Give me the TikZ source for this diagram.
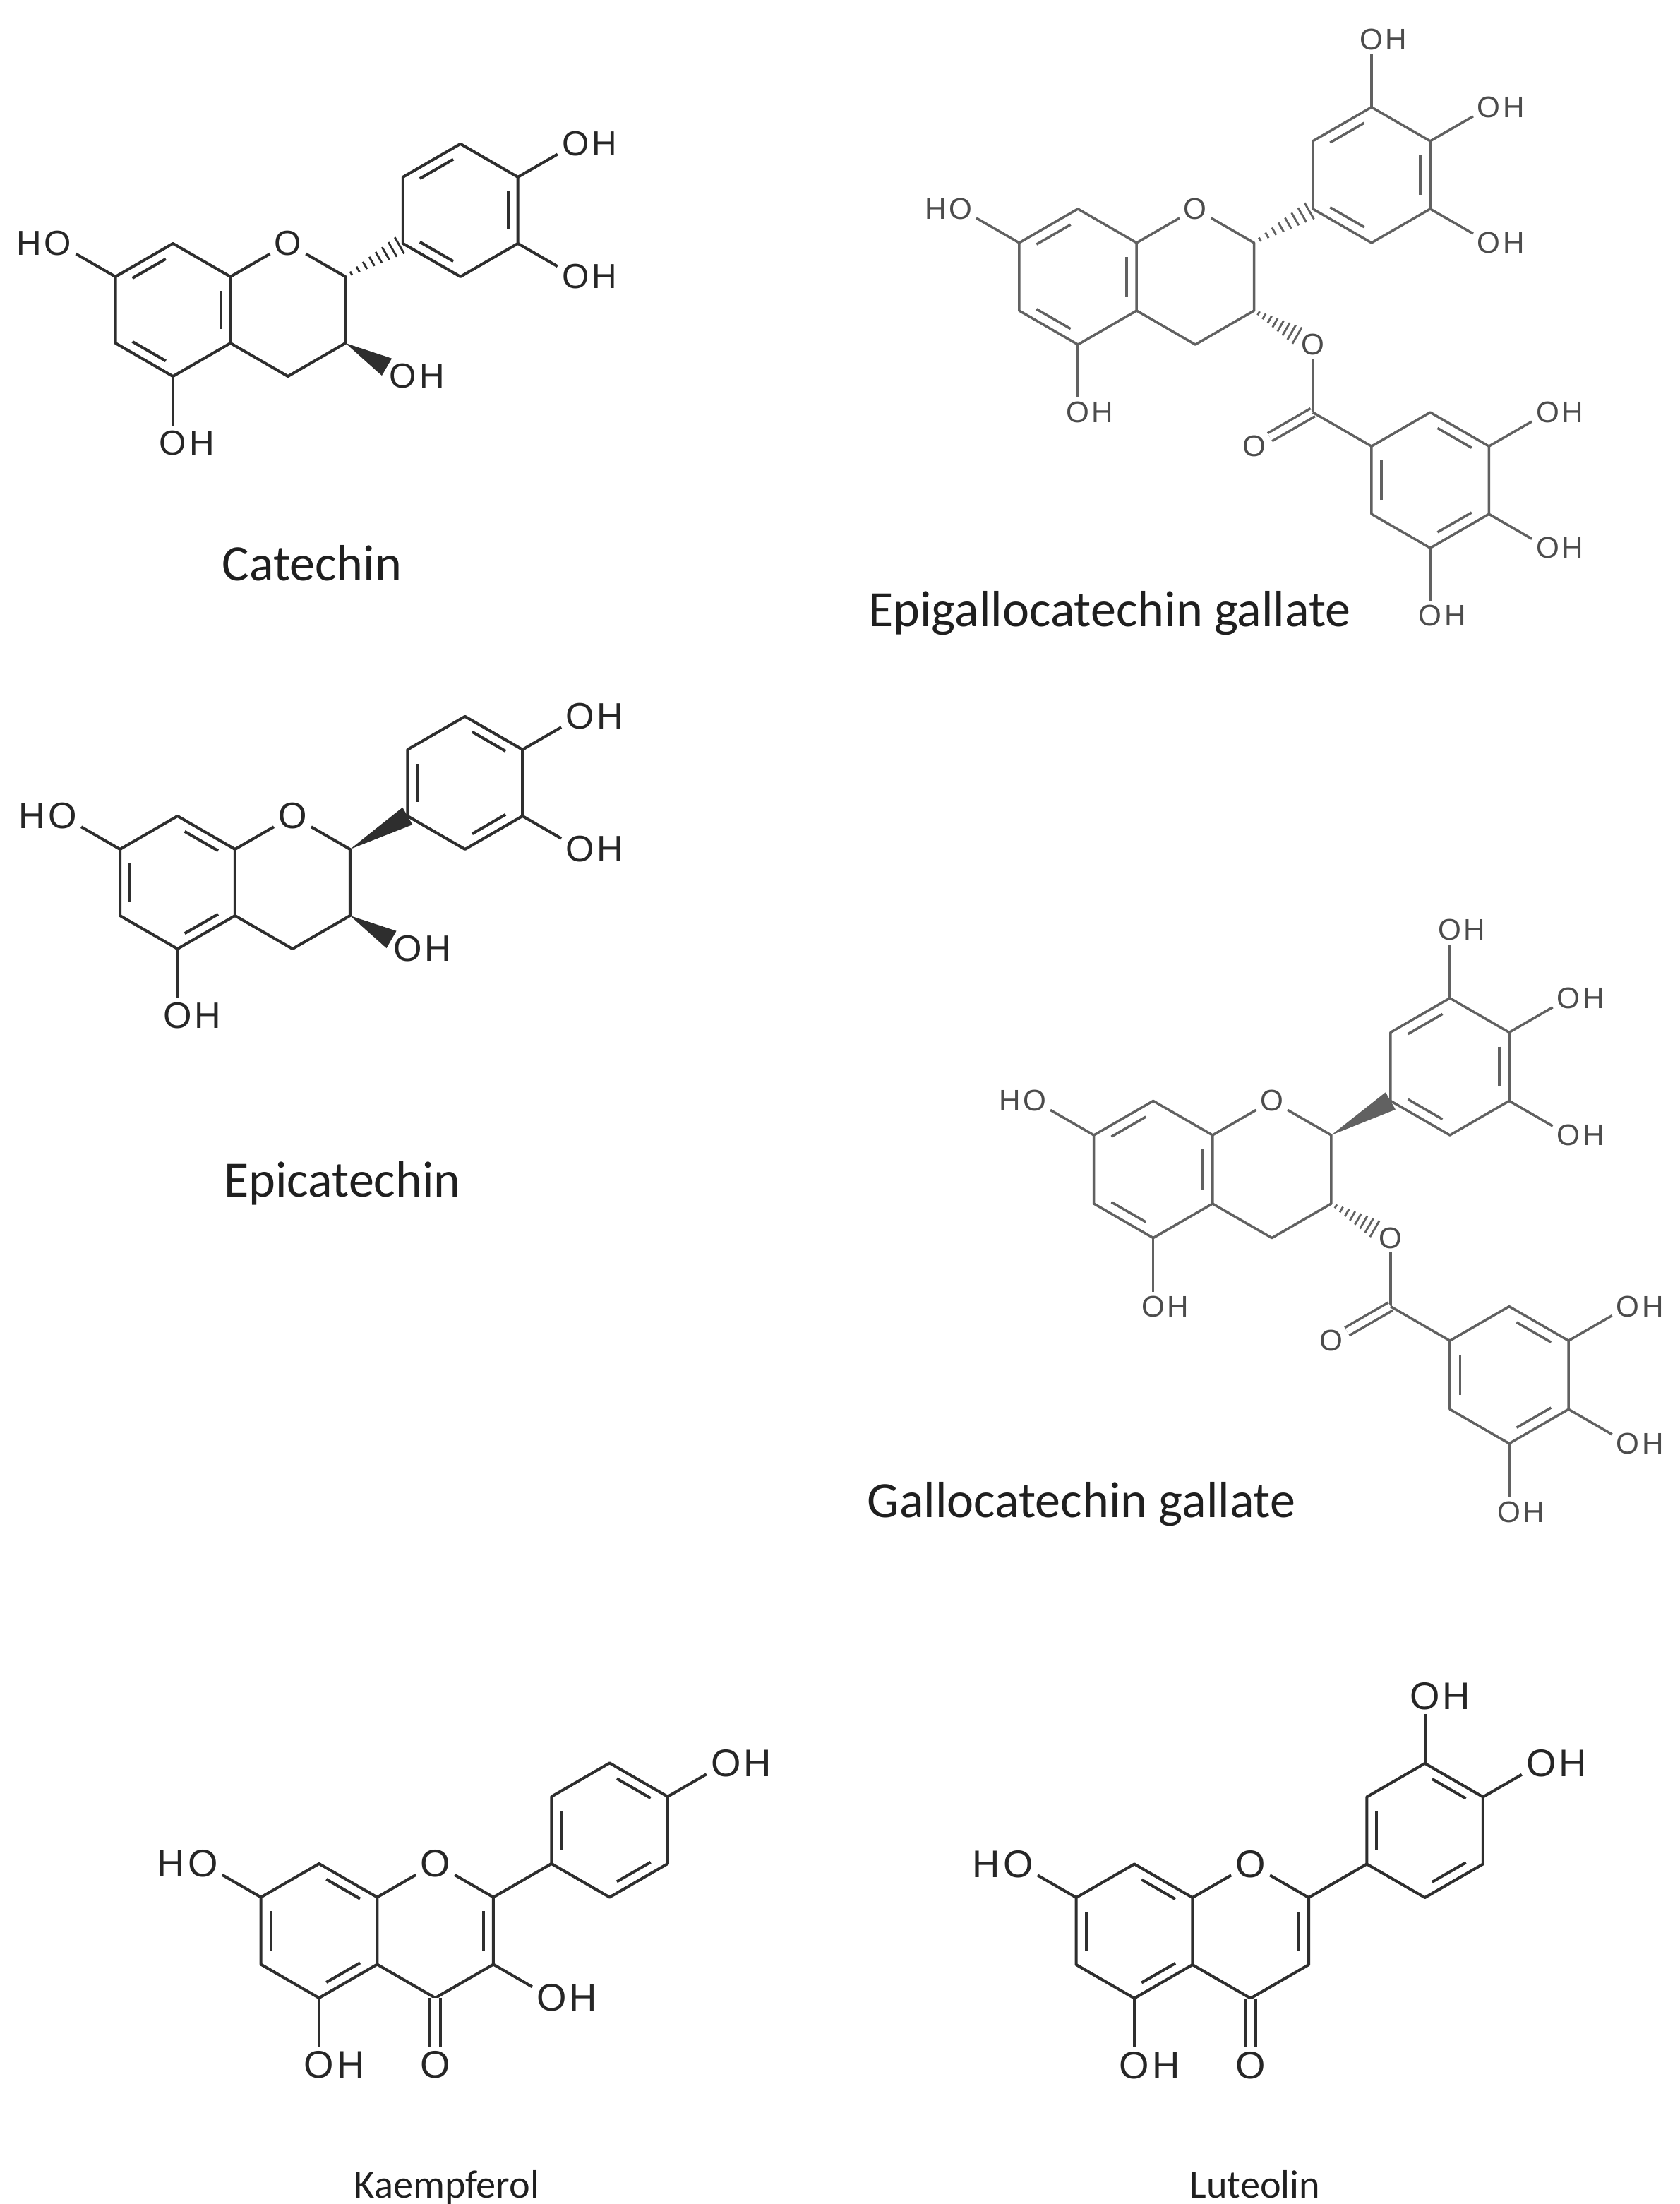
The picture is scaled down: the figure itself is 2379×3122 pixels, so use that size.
\documentclass[tikz,border=0pt]{standalone}
\usepackage{fontspec}
\usetikzlibrary{calc}
\newfontfamily\lab{Liberation Sans}
\newfontfamily\capf{Carlito}
\newcommand\skel[1]{%
 \coordinate (#1a1) at (0,1); \coordinate (#1a2) at (0.866,0.5);
 \coordinate (#1a3) at (0.866,-0.5); \coordinate (#1a4) at (0,-1);
 \coordinate (#1a5) at (-0.866,-0.5); \coordinate (#1a6) at (-0.866,0.5);
 \node[atom] (#1o1) at (1.732,1) {O};
 \coordinate (#1c2) at (2.598,0.5); \coordinate (#1c3) at (2.598,-0.5);
 \coordinate (#1c4) at (1.732,-1);
 \coordinate (#1ca) at (0,0); \coordinate (#1cc) at (1.732,0);
 \coordinate (#1b1) at (3.464,1); \coordinate (#1b2) at (3.464,2);
 \coordinate (#1b3) at (4.33,2.5); \coordinate (#1b4) at (5.196,2);
 \coordinate (#1b5) at (5.196,1); \coordinate (#1b6) at (4.33,0.5);
 \coordinate (#1cb) at (4.33,1.5);
 \draw (#1a1) -- (#1a2) -- (#1a3) -- (#1a4) -- (#1a5) -- (#1a6) -- cycle;
 \draw (#1a2) -- (#1o1) -- (#1c2) -- (#1c3) -- (#1c4) -- (#1a3);
 \draw (#1b1) -- (#1b2) -- (#1b3) -- (#1b4) -- (#1b5) -- (#1b6) -- cycle;
 \HO{#1o7}{-1.732,1} \draw (#1a6) -- (#1o7);
 \OH{#1o5}{0,-2} \draw (#1a4) -- (#1o5);
}
\newcommand\OH[2]{\node[atom] (#1) at (#2) {O}; \node[hl, anchor=base west] (#1h) at ([xshift=-1.2pt]#1.base east) {H};}
\newcommand\HO[2]{\node[atom] (#1) at (#2) {O}; \node[hl, anchor=base east] (#1h) at ([xshift=1.2pt]#1.base west) {H};}
\newcommand\dbl[3]{\path ($(#1)!0.15!(#2)$) coordinate (dA) ($(#1)!0.85!(#2)$) coordinate (dB);
 \draw ($(dA)!0.17!(#3)$) -- ($(dB)!0.17!(#3)$);}
\newcommand\hashb[2]{\foreach \t in {0.1,0.22,0.34,0.46,0.58,0.70,0.82,0.94}{%
 \path ($(#1)!\t!(#2)$) coordinate (hp); \pgfmathsetmacro\hw{0.5+\t*3.5}%
 \draw[line width=0.8pt] ($(hp)!\hw pt!90:(#2)$) -- ($(hp)!\hw pt!-90:(#2)$);}}
\newcommand\wedgeb[2]{\fill (#1) -- ($(#2)!4pt!90:(#1)$) -- ($(#2)!4pt!-90:(#1)$) -- cycle;}
\newcommand\gallo[1]{% EGCG-type B ring OH + ester + gallate
 \OH{#1o3}{4.33,3.5} \draw (#1b3) -- (#1o3);
 \OH{#1o4}{6.062,2.5} \draw (#1b4) -- (#1o4);
 \OH{#1o6}{6.062,0.5} \draw (#1b5) -- (#1o6);
 \dbl{#1a6}{#1a1}{#1ca} \dbl{#1a4}{#1a5}{#1ca} \dbl{#1a2}{#1a3}{#1ca}
 \dbl{#1b2}{#1b3}{#1cb} \dbl{#1b4}{#1b5}{#1cb} \dbl{#1b6}{#1b1}{#1cb}
 \node[atom] (#1oe) at (3.464,-1) {O};
 \path ($(#1c3)!0.78!(#1oe)$) coordinate (#1he); \hashb{#1c3}{#1he}
 \coordinate (#1e1) at (3.464,-2);
 \node[atom] (#1oc) at (2.598,-2.5) {O};
 \draw (#1oe) -- (#1e1);
 \draw[double, double distance=2.6pt] (#1e1) -- (#1oc);
 \coordinate (#1g1) at (4.33,-2.5); \coordinate (#1g2) at (5.196,-2);
 \coordinate (#1g3) at (6.062,-2.5); \coordinate (#1g4) at (6.062,-3.5);
 \coordinate (#1g5) at (5.196,-4); \coordinate (#1g6) at (4.33,-3.5);
 \coordinate (#1cg) at (5.196,-3);
 \draw (#1e1) -- (#1g1);
 \draw (#1g1) -- (#1g2) -- (#1g3) -- (#1g4) -- (#1g5) -- (#1g6) -- cycle;
 \dbl{#1g2}{#1g3}{#1cg} \dbl{#1g6}{#1g1}{#1cg} \dbl{#1g4}{#1g5}{#1cg}
 \OH{#1p3}{6.928,-2} \draw (#1g3) -- (#1p3);
 \OH{#1p4}{6.928,-4} \draw (#1g4) -- (#1p4);
 \OH{#1p5}{5.196,-5} \draw (#1g5) -- (#1p5);
}
\tikzset{
 hl/.style={atom, inner sep=0pt},
 darkmol/.style={draw=black!82, fill=black!82, text=black!85, line width=1.15pt, line join=round},
 greymol/.style={draw=black!62, fill=black!62, text=black!70, line width=1.0pt, line join=round},
 molname/.style={font=\capf\fontsize{20.5}{24}\selectfont, text=black!88, anchor=base},
 molnameS/.style={font=\capf\fontsize{16}{19}\selectfont, text=black!88, anchor=base},
}
\begin{document}
\begin{tikzpicture}[x=0.01cm, y=-0.01cm]
\useasboundingbox (0,0) rectangle (2379,3122);
\fill[white] (0,0) rectangle (2379,3122);
% Catechin
\begin{scope}[shift={(245,439)}, x=0.94cm, y=0.94cm, darkmol, atom/.style={inner sep=1.2pt, font=\lab\fontsize{14}{14}\selectfont}]
 \skel{c}
 \dbl{ca6}{ca1}{cca} \dbl{ca4}{ca5}{cca} \dbl{ca2}{ca3}{cca}
 \dbl{cb2}{cb3}{ccb} \dbl{cb4}{cb5}{ccb} \dbl{cb6}{cb1}{ccb}
 \hashb{cc2}{cb1}
 \OH{co4}{6.062,2.5} \draw (cb4) -- (co4);
 \OH{co6}{6.062,0.5} \draw (cb5) -- (co6);
 \OH{co3}{3.464,-1} \path ($(cc3)!0.72!(co3)$) coordinate (cw); \wedgeb{cc3}{cw}
\end{scope}
\node[molname] (ncat) at (442,823) {Catechin};
% Epicatechin
\begin{scope}[shift={(251.5,1250)}, x=0.94cm, y=0.94cm, darkmol, atom/.style={inner sep=1.2pt, font=\lab\fontsize{14.8}{15}\selectfont}]
 \skel{e}
 \dbl{ea1}{ea2}{eca} \dbl{ea5}{ea6}{eca} \dbl{ea3}{ea4}{eca}
 \dbl{eb1}{eb2}{ecb} \dbl{eb3}{eb4}{ecb} \dbl{eb5}{eb6}{ecb}
 \wedgeb{ec2}{eb1}
 \OH{eo4}{6.062,2.5} \draw (eb4) -- (eo4);
 \OH{eo6}{6.062,0.5} \draw (eb5) -- (eo6);
 \OH{eo3}{3.464,-1} \path ($(ec3)!0.72!(eo3)$) coordinate (ew); \wedgeb{ec3}{ew}
\end{scope}
\node[molname] (nepi) at (485,1695) {Epicatechin};
% EGCG
\begin{scope}[shift={(1527,392)}, x=0.96cm, y=0.96cm, greymol, atom/.style={inner sep=1.2pt, font=\lab\fontsize{12}{12}\selectfont}]
 \skel{g}
 \hashb{gc2}{gb1}
 \gallo{g}
\end{scope}
\node[molname] (negcg) at (1572,887) {Epigallocatechin gallate};
% GCG
\begin{scope}[shift={(1633.7,1656.5)}, x=0.97cm, y=0.97cm, greymol, atom/.style={inner sep=1.2pt, font=\lab\fontsize{12}{12}\selectfont}]
 \skel{h}
 \wedgeb{hc2}{hb1}
 \gallo{h}
\end{scope}
\node[molname] (ngcg) at (1532,2149) {Gallocatechin gallate};
% Kaempferol
\begin{scope}[shift={(452,2735)}, x=0.95cm, y=0.95cm, darkmol, atom/.style={inner sep=1.2pt, font=\lab\fontsize{15.5}{16}\selectfont}]
 \skel{k}
 \dbl{ka1}{ka2}{kca} \dbl{ka5}{ka6}{kca} \dbl{ka3}{ka4}{kca}
 \dbl{kc2}{kc3}{kcc}
 \dbl{kb1}{kb2}{kcb} \dbl{kb3}{kb4}{kcb} \dbl{kb5}{kb6}{kcb}
 \draw (kc2) -- (kb1);
 \node[atom] (kox) at (1.732,-2) {O};
 \draw[double, double distance=3pt] (kc4) -- (kox);
 \OH{ko3}{3.464,-1} \draw (kc3) -- (ko3);
 \OH{ko4}{6.062,2.5} \draw (kb4) -- (ko4);
\end{scope}
\node[molnameS] (nkae) at (633,3113) {Kaempferol};
% Luteolin
\begin{scope}[shift={(1607,2735.5)}, x=0.95cm, y=0.95cm, darkmol, atom/.style={inner sep=1.2pt, font=\lab\fontsize{15.5}{16}\selectfont}]
 \skel{l}
 \dbl{la1}{la2}{lca} \dbl{la5}{la6}{lca} \dbl{la3}{la4}{lca}
 \dbl{lc2}{lc3}{lcc}
 \dbl{lb1}{lb2}{lcb} \dbl{lb3}{lb4}{lcb} \dbl{lb5}{lb6}{lcb}
 \draw (lc2) -- (lb1);
 \node[atom] (lox) at (1.732,-2) {O};
 \draw[double, double distance=3pt] (lc4) -- (lox);
 \OH{lo3}{4.33,3.5} \draw (lb3) -- (lo3);
 \OH{lo4}{6.062,2.5} \draw (lb4) -- (lo4);
\end{scope}
\node[molnameS] (nlut) at (1778,3113) {Luteolin};
\end{tikzpicture}
\end{document}
